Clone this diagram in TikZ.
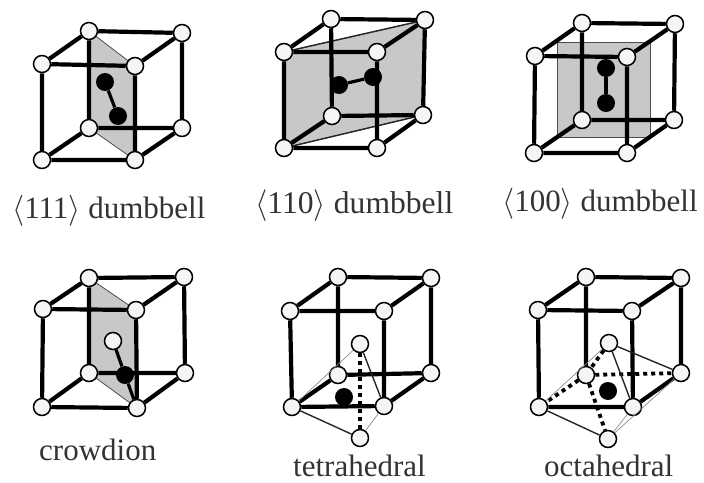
\RequirePackage{fix-cm}
\documentclass[tikz,border=0pt]{standalone}
\usepackage{fontspec}
\setmainfont{Liberation Serif}
\usetikzlibrary{backgrounds}
\definecolor{shade}{HTML}{C8C8C8}
\definecolor{txt}{HTML}{333333}
\tikzset{
 atom/.style={circle,draw=black,line width=1.5pt,fill=white!96!black,minimum size=17pt,inner sep=0pt},
 solute/.style={circle,fill=black,draw=none,minimum size=18pt,inner sep=0pt},
 edge/.style={line width=4.2pt,black},
 link/.style={line width=3.2pt,black},
 face/.style={fill=shade,draw=black!70,line width=0.8pt},
 midline/.style={line width=1.4pt,black!85},
 faint/.style={line width=0.7pt,black!45},
 dots/.style={line width=3.8pt,black,dash pattern=on 4pt off 4pt},
 lbl/.style={anchor=base west,inner sep=0pt,text=txt},
 lfa/.style={font=\fontsize{31}{31}\selectfont},
 lfb/.style={font=\fontsize{31.6}{31.6}\selectfont}
}
% prefix, then FTL BTL BTR FTR BBL BBR FBL FBR
\newcommand{\cubenodes}[9]{%
 \node[atom] (#1a) at #2 {};
 \node[atom] (#1b) at #3 {};
 \node[atom] (#1c) at #4 {};
 \node[atom] (#1d) at #5 {};
 \node[atom] (#1e) at #6 {};
 \node[atom] (#1f) at #7 {};
 \node[atom] (#1g) at #8 {};
 \node[atom] (#1h) at #9 {};
}
\newcommand{\cubeouter}[1]{%
 \draw[edge] (#1a)--(#1b) (#1b)--(#1c) (#1c)--(#1d) (#1d)--(#1a)
  (#1f)--(#1h) (#1h)--(#1g)
  (#1a)--(#1g) (#1b)--(#1e) (#1c)--(#1f) (#1d)--(#1h);
}
\newcommand{\cubeedges}[1]{%
 \cubeouter{#1}
 \draw[edge] (#1e)--(#1f) (#1g)--(#1e);
}
\begin{document}
\begin{tikzpicture}[x=1pt,y=-1pt]
\useasboundingbox (0,0) rectangle (704,482);
% cube 1
\cubenodes{p}{(42,64)}{(89,31)}{(182,33)}{(135,66)}{(89,128)}{(182,128)}{(42,160)}{(135,160)}
\begin{scope}[on background layer]
 \filldraw[face] (pb.center)--(pd.center)--(ph.center)--(pe.center)--cycle;
\end{scope}
\cubeedges{p}
\node[solute] (p1) at (105,82) {};
\node[solute] (p2) at (118,116) {};
\draw[link] (p1)--(p2);
% cube 2
\cubenodes{q}{(284,52)}{(331,19)}{(425,20)}{(377,52)}{(332,116)}{(423,115)}{(284,148)}{(377,148)}
\begin{scope}[on background layer]
 \filldraw[face] (qa.center)--(qc.center)--(qf.center)--(qg.center)--cycle;
\end{scope}
\draw[midline] (qa)--(qc) (qg)--(qf);
\cubeedges{q}
\node[solute] (q1) at (339,85) {};
\node[solute] (q2) at (373,77) {};
\draw[link] (q1)--(q2);
% cube 3
\cubenodes{r}{(535,56)}{(582,23)}{(675,24)}{(627,57)}{(582,120)}{(674,120)}{(534,153)}{(627,153)}
\begin{scope}[on background layer]
 \coordinate (r1) at (557,42); \coordinate (r2) at (650,42);
 \coordinate (r3) at (650,137); \coordinate (r4) at (557,137);
 \filldraw[face] (r1)--(r2)--(r3)--(r4)--cycle;
\end{scope}
\cubeedges{r}
\node[solute] (r5) at (606,68) {};
\node[solute] (r6) at (606,103) {};
\draw[link] (r5)--(r6);
% cube 4
\cubenodes{s}{(43,309)}{(89,278)}{(184,277)}{(136,310)}{(89,373)}{(185,373)}{(42,407)}{(137,408)}
\begin{scope}[on background layer]
 \filldraw[face] (sb.center)--(sd.center)--(sh.center)--(se.center)--cycle;
\end{scope}
\cubeedges{s}
\node[atom] (s1) at (113,341) {};
\node[solute] (s2) at (125,375) {};
\draw[link] (s1)--(s2) (s2)--(sh);
% cube 5
\cubenodes{t}{(290,311)}{(338,277)}{(431,278)}{(384,311)}{(338,375)}{(431,373)}{(292,407)}{(384,406)}
\cubeedges{t}
\node[atom] (t1) at (360,344) {};
\node[atom] (t2) at (360,438) {};
\node[solute] (t3) at (344,397) {};
\draw[dots] (t1)--(t2);
\draw[midline] (t1)--(th) (t2)--(tg);
\draw[faint] (t1)--(tg) (t2)--(th);
% cube 6
\cubenodes{u}{(538,310)}{(586,277)}{(681,278)}{(632,311)}{(586,375)}{(681,373)}{(539,407)}{(633,407)}
\cubeouter{u}
\node[atom] (u1) at (609,343) {};
\node[atom] (u2) at (608,439) {};
\node[solute] (u3) at (608,391) {};
\draw[dots] (u1)--(ue) (ue)--(ug) (ue)--(uf) (ue)--(u2);
\draw[midline] (u1)--(uh) (u1)--(uf) (u2)--(ug);
\draw[faint] (u1)--(ug) (u2)--(uh) (u2)--(uf);
% labels
\node[lbl,lfa] (l1) at (12,218) {$\langle$111$\rangle$ dumbbell};
\node[lbl,lfb] (l2) at (255,213) {$\langle$110$\rangle$ dumbbell};
\node[lbl,lfa] (l3) at (502,211) {$\langle$100$\rangle$ dumbbell};
\node[lbl,lfa] (l4) at (39,460) {crowdion};
\node[lbl,lfa] (l5) at (293,476) {tetrahedral};
\node[lbl,lfa] (l6) at (544,476) {octahedral};
\end{tikzpicture}
\end{document}
